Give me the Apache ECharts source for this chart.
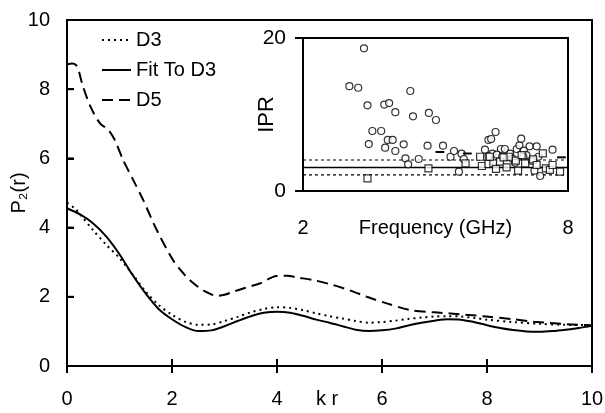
<!DOCTYPE html>
<html>
<head>
<meta charset="utf-8" />
<title>P2(r)</title>
<script src="https://cdn.jsdelivr.net/npm/echarts@6/dist/echarts.min.js"></script>
<style>
  html, body { margin: 0; padding: 0; background: #fff; }
  #chart { width: 605px; height: 413px; }
</style>
</head>
<body>
<div id="chart"></div>
<script>
// main plot: P2(r) vs k r
const krD3 = [0, 0.15, 0.25, 0.5, 0.75, 1.0, 1.25, 1.5, 1.75, 2.0, 2.25, 2.5, 2.75, 3.0, 3.25, 3.5, 3.75, 4.0, 4.25, 4.5, 4.75, 5.0, 5.25, 5.5, 5.75, 6.0, 6.25, 6.5, 6.75, 7.0, 7.25, 7.5, 7.75, 8.0, 8.5, 9.0, 9.5, 10];
const d3 = [4.72, 4.55, 4.38, 3.92, 3.5, 3.12, 2.65, 2.15, 1.76, 1.48, 1.28, 1.19, 1.2, 1.3, 1.42, 1.55, 1.65, 1.7, 1.68, 1.61, 1.52, 1.44, 1.37, 1.3, 1.25, 1.27, 1.31, 1.36, 1.4, 1.43, 1.44, 1.43, 1.39, 1.34, 1.27, 1.22, 1.19, 1.18];

const krFit = [0, 0.25, 0.5, 0.75, 1.0, 1.25, 1.5, 1.75, 2.0, 2.25, 2.5, 2.75, 3.0, 3.25, 3.5, 3.75, 4.0, 4.25, 4.5, 4.75, 5.0, 5.25, 5.5, 5.75, 6.0, 6.25, 6.5, 6.75, 7.0, 7.25, 7.5, 7.75, 8.0, 8.25, 8.5, 8.75, 9.0, 9.25, 9.5, 9.75, 10];
const fitD3 = [4.56, 4.38, 4.12, 3.74, 3.23, 2.63, 2.09, 1.64, 1.35, 1.13, 1.01, 1.03, 1.15, 1.3, 1.44, 1.54, 1.57, 1.54, 1.45, 1.34, 1.25, 1.15, 1.05, 1.01, 1.03, 1.08, 1.17, 1.25, 1.31, 1.35, 1.34, 1.27, 1.18, 1.1, 1.04, 1.0, 0.99, 1.01, 1.05, 1.1, 1.16];

const krD5 = [0, 0.1, 0.17, 0.22, 0.3, 0.45, 0.63, 0.79, 0.91, 1.07, 1.26, 1.45, 1.71, 2.02, 2.25, 2.41, 2.6, 2.85, 3.0, 3.17, 3.4, 3.68, 3.99, 4.2, 4.38, 4.7, 5.07, 5.4, 5.71, 6.09, 6.53, 7.0, 7.3, 7.99, 8.5, 8.88, 9.52, 10];
const d5 = [8.72, 8.74, 8.7, 8.55, 8.1, 7.49, 7.01, 6.82, 6.53, 5.95, 5.38, 4.8, 3.93, 3.06, 2.62, 2.39, 2.18, 2.03, 2.06, 2.15, 2.26, 2.39, 2.6, 2.61, 2.56, 2.48, 2.34, 2.18, 2.0, 1.81, 1.62, 1.55, 1.52, 1.43, 1.35, 1.28, 1.21, 1.18];

const xTicks = [0, 2, 4, 6, 8, 10];
const yTicks = [0, 2, 4, 6, 8, 10];

// inset: IPR vs frequency
const circleFreq = [3.38, 3.05, 3.25, 3.46, 3.57, 3.49, 3.77, 3.84, 3.95, 4.09, 3.92, 4.03, 3.86, 4.09, 4.28, 4.32, 4.38, 4.43, 4.49, 4.62, 4.82, 4.85, 5.01, 5.17, 5.34, 5.42, 5.59, 5.64, 5.53, 6.12, 6.2, 6.26, 6.36, 6.29, 6.48, 6.57, 6.39, 6.69, 6.84, 6.9, 6.94, 7.0, 7.13, 7.29, 7.33, 7.24, 7.37, 7.65, 7.06, 6.74, 6.8, 6.51, 6.2, 7.18, 6.99];
const circleIpr = [18.65, 13.7, 13.5, 11.2, 7.84, 6.14, 7.84, 11.3, 11.5, 10.3, 6.67, 6.67, 5.66, 5.23, 6.1, 4.27, 3.49, 13.07, 9.76, 4.18, 5.92, 10.2, 9.28, 5.92, 4.48, 5.23, 4.88, 4.18, 2.53, 5.4, 6.67, 6.8, 7.71, 4.88, 5.49, 5.49, 4.75, 4.88, 5.49, 5.97, 6.84, 5.27, 5.84, 5.84, 4.48, 2.66, 1.96, 5.4, 4.7, 4.23, 3.7, 4.48, 4.57, 3.92, 4.48];
const squareFreq = [3.46, 4.84, 5.68, 6.01, 6.05, 6.2, 6.31, 6.37, 6.46, 6.61, 6.66, 6.82, 6.87, 7.03, 7.21, 7.29, 7.43, 7.5, 7.59, 7.65, 7.82, 6.23, 6.54, 6.95];
const squareIpr = [1.66, 2.97, 3.62, 4.48, 3.27, 3.53, 3.62, 2.88, 3.83, 3.1, 4.48, 3.96, 2.66, 3.62, 4.14, 3.4, 4.93, 2.97, 2.75, 3.4, 2.53, 4.48, 4.4, 4.7];
const dashFreq = [5.1, 5.72, 7.85];
const dashIpr = [5.1, 4.9, 4.4];
const iprLevels = [4.05, 3.07, 2.1];
const freqRange = [2, 8];
const iprTicks = [0, 20];

const font = "Liberation Sans, Arial, Helvetica, sans-serif";
const pairs = (xs, ys) => xs.map((x, i) => [x, ys[i]]);

const chart = echarts.init(document.getElementById("chart"));

// a short straight segment between two data points, drawn as its own line series
const segment = (axisIdx, a, b, type, width, z) => ({
  type: "line",
  xAxisIndex: axisIdx,
  yAxisIndex: axisIdx,
  data: [a, b],
  symbol: "none",
  silent: true,
  clip: false,
  lineStyle: { color: "#000", width: width, type: type },
  z: z,
});

// tick half-lengths in axis units (about 7 px on the main plot)
const tx = 0.13;
const ty = 0.2;
const dashHalf = 0.1;

const tickSeries = [].concat(
  xTicks.map((v) => segment(0, [v, -ty], [v, ty], "solid", 2, 30)),
  yTicks.map((v) => segment(0, [-tx, v], [tx, v], "solid", 2, 30)),
  dashFreq.map((f, i) => segment(1, [f - dashHalf, dashIpr[i]], [f + dashHalf, dashIpr[i]], "solid", 2, 30))
);

const levelSeries = [
  segment(1, [freqRange[0], iprLevels[0]], [freqRange[1], iprLevels[0]], [3, 3], 1.2, 20),
  segment(1, [freqRange[0], iprLevels[1]], [freqRange[1], iprLevels[1]], "solid", 1.5, 20),
  segment(1, [freqRange[0], iprLevels[2]], [freqRange[1], iprLevels[2]], [3, 3], 1.2, 20),
];

const tickStyle = { color: "#000", width: 2 };

const option = {
  animation: false,
  backgroundColor: "#fff",
  textStyle: { fontFamily: font, color: "#000" },
  grid: [
    { left: 67, top: 20, width: 525, height: 346, outerBoundsMode: "none", show: true, borderColor: "#000", borderWidth: 2, backgroundColor: "transparent" },
    { left: 303, top: 38, width: 265, height: 153, outerBoundsMode: "none", show: true, borderColor: "#000", borderWidth: 2, backgroundColor: "#fff", z: 5 },
  ],
  legend: {
    orient: "vertical",
    left: 96,
    top: 25,
    itemWidth: 29,
    itemHeight: 14,
    itemGap: 10,
    data: ["D3", "Fit To D3", "D5"],
    itemStyle: { color: "transparent", borderColor: "transparent", borderWidth: 0 },
    textStyle: { fontSize: 20, fontFamily: font, color: "#000" },
  },
  xAxis: [
    {
      gridIndex: 0, type: "value", min: 0, max: 10, interval: 2,
      axisLine: { show: true, lineStyle: { color: "#000", width: 2 } },
      axisTick: { show: true, inside: true, length: 7, lineStyle: tickStyle },
      axisLabel: { fontSize: 20, margin: 23, color: "#000", fontFamily: font, customValues: xTicks },
      splitLine: { show: false },
    },
    {
      gridIndex: 1, type: "value", min: 2, max: 8, interval: 1,
      axisLine: { show: true, lineStyle: { color: "#000", width: 1 } },
      axisTick: { show: true, inside: true, length: 6, lineStyle: tickStyle, customValues: freqRange },
      axisLabel: { fontSize: 20, margin: 27, color: "#000", fontFamily: font, customValues: freqRange },
      splitLine: { show: false },
      name: "Frequency (GHz)",
      nameLocation: "middle",
      nameGap: 27,
      nameMoveOverlap: false,
      nameTextStyle: { fontSize: 20, color: "#000", fontFamily: font },
      z: 21,
    },
  ],
  yAxis: [
    {
      gridIndex: 0, type: "value", min: 0, max: 10, interval: 2,
      axisLine: { show: true, lineStyle: { color: "#000", width: 2 } },
      axisTick: { show: true, inside: true, length: 7, lineStyle: tickStyle },
      axisLabel: { fontSize: 20, margin: 17, color: "#000", fontFamily: font, customValues: yTicks },
      splitLine: { show: false },
      name: "P₂(r)",
      nameLocation: "middle",
      nameGap: 38,
      nameMoveOverlap: false,
      nameRotate: 90,
      nameTextStyle: { fontSize: 20, color: "#000", fontFamily: font },
    },
    {
      gridIndex: 1, type: "value", min: 0, max: 20, interval: 20,
      axisLine: { show: true, lineStyle: { color: "#000", width: 1.5 } },
      axisTick: { show: true, inside: false, length: 8, lineStyle: tickStyle, customValues: iprTicks },
      axisLabel: { fontSize: 21, margin: 17, color: "#000", fontFamily: font },
      splitLine: { show: false },
      name: "IPR",
      nameLocation: "middle",
      nameGap: 25,
      nameMoveOverlap: false,
      nameRotate: 90,
      nameTextStyle: { fontSize: 22, color: "#000", fontFamily: font },
      z: 21,
    },
  ],
  graphic: [
    {
      type: "text",
      left: 316,
      top: 389,
      style: { text: "k r", fontSize: 20, fontFamily: font, fill: "#000" },
    },
  ],
  series: [
    {
      name: "D3", type: "line", xAxisIndex: 0, yAxisIndex: 0,
      data: pairs(krD3, d3), symbol: "none", smooth: 0.3,
      lineStyle: { color: "#000", width: 2, type: [2, 4] },
      itemStyle: { color: "#000" },
    },
    {
      name: "Fit To D3", type: "line", xAxisIndex: 0, yAxisIndex: 0,
      data: pairs(krFit, fitD3), symbol: "none", smooth: 0.3,
      lineStyle: { color: "#000", width: 2, type: "solid" },
      itemStyle: { color: "#000" },
    },
    {
      name: "D5", type: "line", xAxisIndex: 0, yAxisIndex: 0,
      data: pairs(krD5, d5), symbol: "none", smooth: 0.3,
      lineStyle: { color: "#000", width: 2, type: [11, 6] },
      itemStyle: { color: "#000" },
    },
    ...levelSeries,
    {
      type: "scatter", xAxisIndex: 1, yAxisIndex: 1,
      data: pairs(circleFreq, circleIpr), symbol: "circle", symbolSize: 7,
      itemStyle: { color: "#fff", borderColor: "#000", borderWidth: 1.2 },
      z: 22,
    },
    {
      type: "scatter", xAxisIndex: 1, yAxisIndex: 1,
      data: pairs(squareFreq, squareIpr), symbol: "rect", symbolSize: 7,
      itemStyle: { color: "#fff", borderColor: "#000", borderWidth: 1.2 },
      z: 22,
    },
    ...tickSeries,
  ],
};

chart.setOption(option);
</script>
</body>
</html>
